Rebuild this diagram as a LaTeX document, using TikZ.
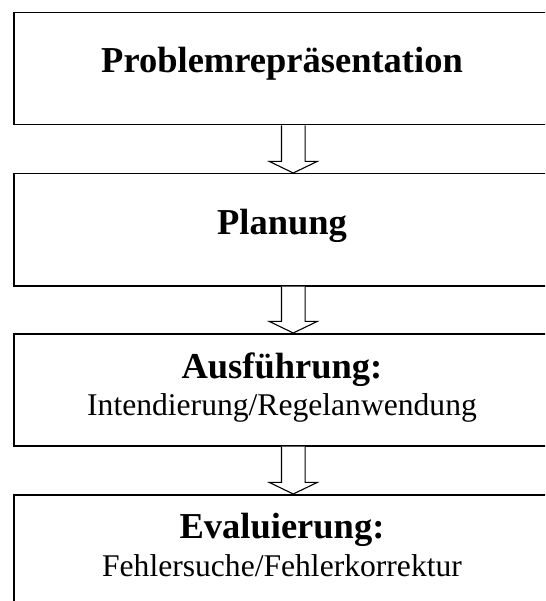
\documentclass[tikz,border=0pt]{standalone}
\usepackage{fontspec}
\setmainfont{Liberation Serif}
\usetikzlibrary{calc}

\tikzset{
  stage/.style={draw, line width=1.5pt, minimum width=559pt, minimum height=112pt,
    inner sep=0pt, anchor=north west},
  headline/.style={anchor=base, inner sep=0pt,
    font=\fontsize{36.5}{40}\selectfont\bfseries},
  subline/.style={anchor=base, inner sep=0pt,
    font=\fontsize{31.6}{36}\selectfont},
  flow/.style={draw, line width=1.1pt, line join=miter, fill=white}
}

% hollow block arrow from the bottom of one stage to the top of the next
\newcommand{\stagearrow}[2]{%
  \draw[flow] ($(#1.south)+(-11.8,0)$) |- ($(#2.north)+(-24,11.6)$)
    -- (#2.north) -- ($(#2.north)+(24,11.6)$) -| ($(#1.south)+(11.8,0)$);
}

\begin{document}
\begin{tikzpicture}[x=1pt,y=1pt]
  \useasboundingbox (0,0) rectangle (545,-601);
  \clip (0,0) rectangle (545,-601);
  \fill[white] (0,0) rectangle (545,-601);

  % the four stages
  \node[stage] (rep)  at (13,-12)  {};
  \node[stage] (plan) at (13,-173) {};
  \node[stage] (exec) at (13,-333) {};
  \node[stage] (eval) at (13,-494) {};

  % stage texts
  \node[headline] (repT)   at (282,-73)  {Problemrepräsentation};
  \node[headline] (planT)  at (282,-234) {Planung};
  \node[headline] (execT)  at (282,-378) {Ausführung:};
  \node[subline]  (execS)  at (282,-415) {Intendierung/Regelanwendung};
  \node[headline] (evalT)  at (282,-538) {Evaluierung:};
  \node[subline]  (evalS)  at (282,-576) {Fehlersuche/Fehlerkorrektur};

  % arrows between the stages
  \stagearrow{rep}{plan}
  \stagearrow{plan}{exec}
  \stagearrow{exec}{eval}
\end{tikzpicture}
\end{document}
